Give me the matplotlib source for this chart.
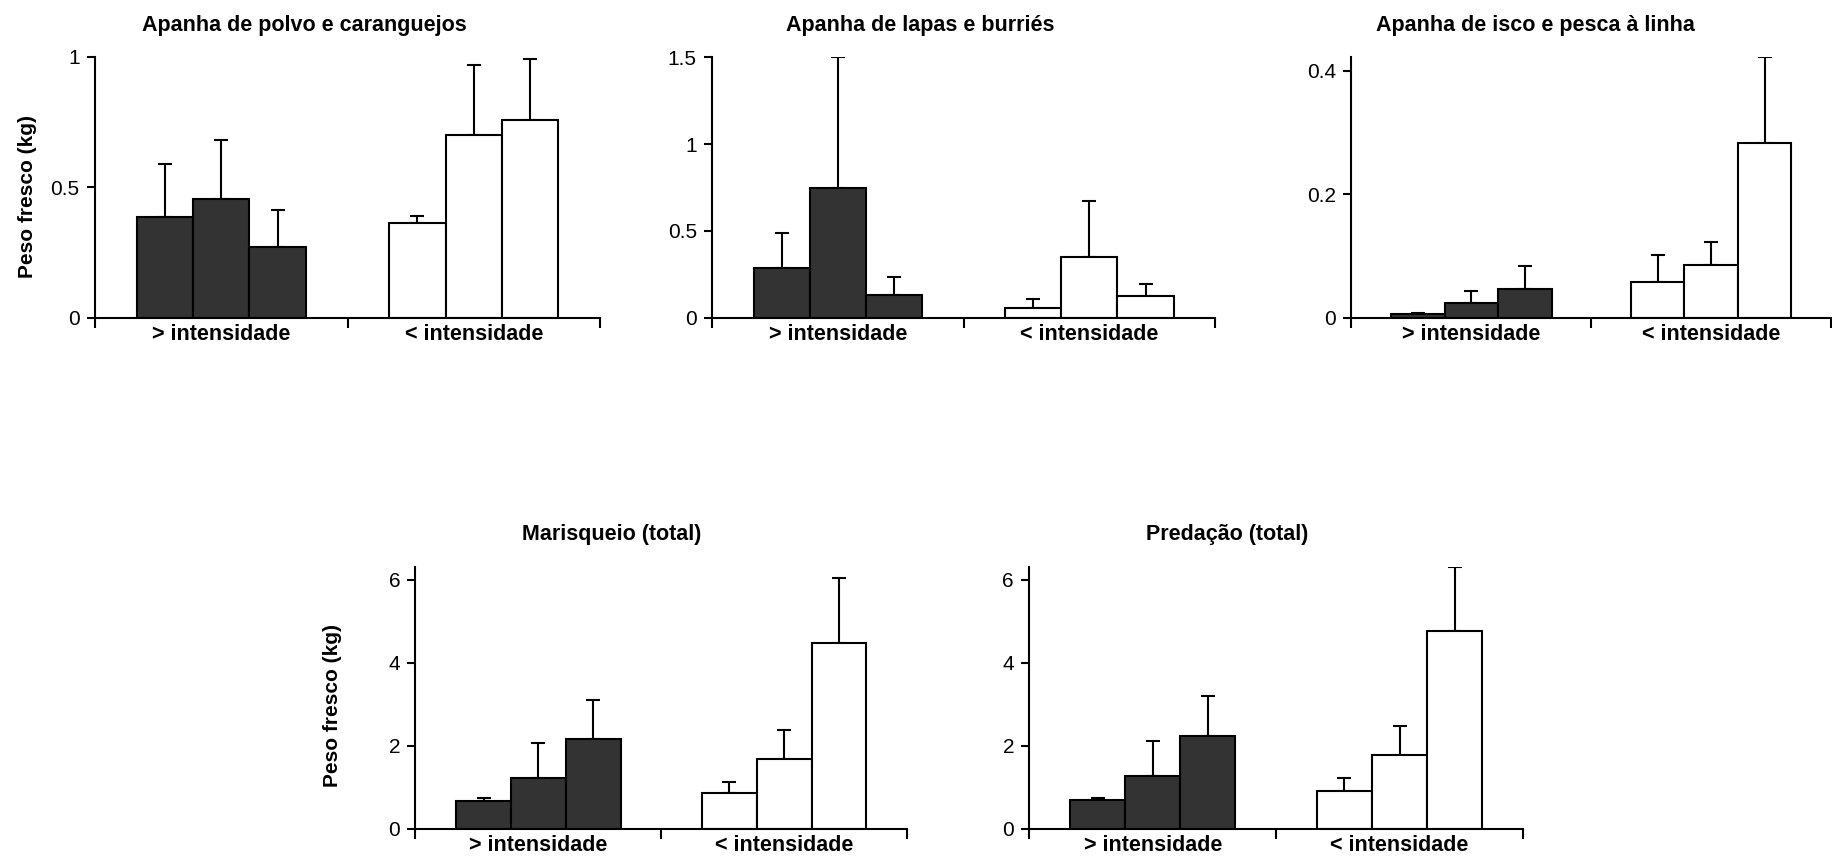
import matplotlib
matplotlib.use("Agg")
import matplotlib.pyplot as plt
from matplotlib.ticker import FuncFormatter

plt.rcParams["font.family"] = ["Liberation Sans", "DejaVu Sans"]

groups = ["> intensidade", "< intensidade"]

# panel titles
titles = [
    "Apanha de polvo e caranguejos",
    "Apanha de lapas e burriés",
    "Apanha de isco e pesca à linha",
    "Marisqueio (total)",
    "Predação (total)",
]

# mean values (3 dark bars for "> intensidade", 3 white bars for "< intensidade")
polvo_mean = [0.388, 0.455, 0.271, 0.365, 0.700, 0.758]
polvo_err = [0.202, 0.227, 0.143, 0.025, 0.268, 0.233]

lapas_mean = [0.288, 0.750, 0.131, 0.056, 0.350, 0.127]
lapas_err = [0.200, 0.750, 0.104, 0.054, 0.323, 0.067]

isco_mean = [0.006, 0.024, 0.0465, 0.058, 0.085, 0.283]
isco_err = [0.001, 0.019, 0.037, 0.044, 0.037, 0.139]

marisq_mean = [0.673, 1.234, 2.171, 0.873, 1.690, 4.479]
marisq_err = [0.064, 0.833, 0.938, 0.257, 0.682, 1.571]

pred_mean = [0.689, 1.266, 2.228, 0.913, 1.779, 4.768]
pred_err = [0.048, 0.857, 0.969, 0.305, 0.705, 1.538]

means = [polvo_mean, lapas_mean, isco_mean, marisq_mean, pred_mean]
errs = [polvo_err, lapas_err, isco_err, marisq_err, pred_err]
yticks = [[0, 0.5, 1], [0, 0.5, 1, 1.5], [0, 0.2, 0.4], [0, 2, 4, 6], [0, 2, 4, 6]]
ytops = [1.0, 1.5, 0.422, 6.31, 6.31]

# axes boxes in figure fraction: left, bottom, width, height
boxes = [
    [0.0518, 0.6294, 0.2758, 0.3042],
    [0.3887, 0.6297, 0.2746, 0.3034],
    [0.7377, 0.6297, 0.2617, 0.3035],
    [0.2268, 0.0338, 0.2683, 0.3057],
    [0.5619, 0.0338, 0.2694, 0.3057],
]
title_x = [0.415, 0.413, 0.383, 0.40, 0.40]
has_ylabel = [True, False, False, True, False]
ylabel_pos = [(-0.115, 0.467), None, None, (-0.149, 0.469), None]

DARK = "#333333"
bw = 0.2233

fig = plt.figure(figsize=(18.32, 8.58), dpi=100)

for k in range(5):
    ax = fig.add_axes(boxes[k])
    m = means[k]
    e = errs[k]
    for i in range(6):
        g = i // 3
        j = i % 3
        x = g + 0.5 + (j - 1) * bw
        color = DARK if g == 0 else "white"
        ax.bar(x, m[i], width=bw, color=color, edgecolor="black", linewidth=1.5, zorder=2)
        ax.errorbar(x, m[i], yerr=[[0], [e[i]]], fmt="none", ecolor="black",
                    elinewidth=1.5, capsize=5, capthick=1.5, zorder=1)

    ax.set_xlim(0, 2)
    ax.set_ylim(0, ytops[k])
    ax.set_yticks(yticks[k])
    ax.yaxis.set_major_formatter(FuncFormatter(lambda v, p: "%g" % v))
    ax.tick_params(axis="y", direction="out", length=6, width=1.5, pad=5, labelsize=15)

    ax.set_xticks([0, 1, 2])
    ax.set_xticklabels([])
    ax.set_xticks([0.5, 1.5], minor=True)
    ax.set_xticklabels(groups, minor=True, fontweight="bold", fontsize=15.5)
    ax.tick_params(axis="x", which="major", direction="out", length=7, width=1.5)
    ax.tick_params(axis="x", which="minor", length=0, pad=4.5)

    for s in ["top", "right"]:
        ax.spines[s].set_visible(False)
    for s in ["left", "bottom"]:
        ax.spines[s].set_linewidth(1.5)
    ax.spines["bottom"].set_zorder(3)

    ax.set_title(titles[k], fontsize=15.5, fontweight="bold", x=title_x[k], pad=19)

    if has_ylabel[k]:
        ax.set_ylabel("Peso fresco (kg)", fontsize=15, fontweight="bold")
        ax.yaxis.set_label_coords(*ylabel_pos[k])

fig.savefig("out.png", dpi=100)
